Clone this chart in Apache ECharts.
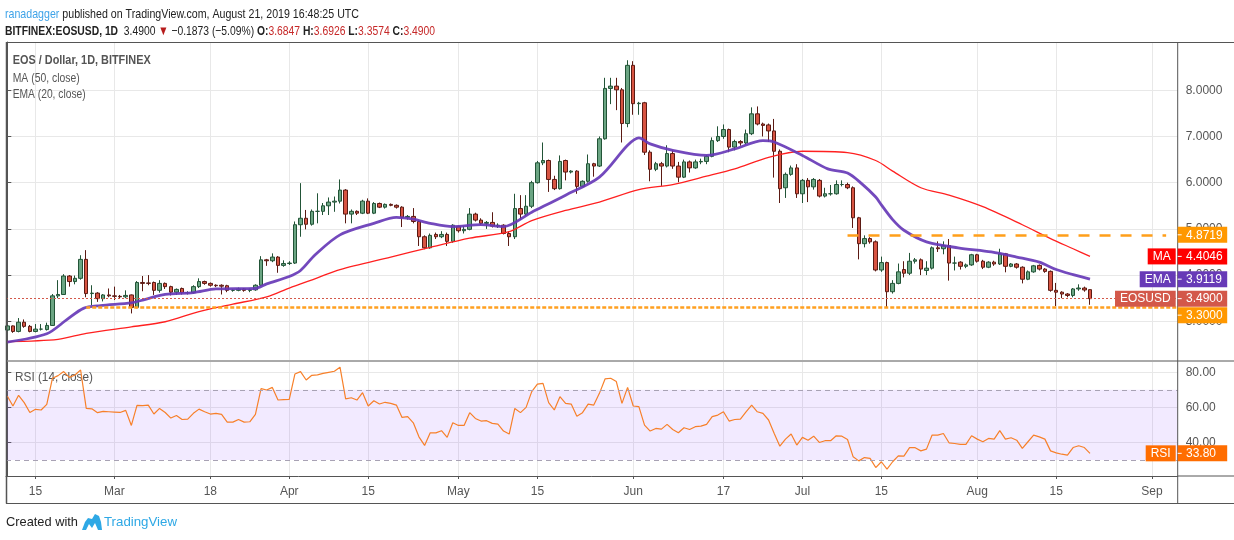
<!DOCTYPE html>
<html><head><meta charset="utf-8">
<script src="https://cdn.jsdelivr.net/npm/echarts@6/dist/echarts.min.js"></script>
<style>html,body{margin:0;padding:0;background:#fff;}#c{width:1234px;height:540px;}</style>
</head><body><div id="c"></div>
<script>
// ---------- DATA ----------
const opens = [
2.81,2.90,2.78,2.98,2.89,2.78,2.83,2.82,2.91,3.55,
3.58,3.98,3.86,3.93,4.34,3.60,3.61,3.49,3.57,3.55,
3.54,3.53,3.57,3.30,3.84,3.83,3.84,3.67,3.82,3.75,
3.63,3.71,3.62,3.62,3.75,3.86,3.82,3.78,3.78,3.77,
3.67,3.67,3.70,3.67,3.68,3.78,4.33,4.31,4.39,4.21,
4.25,4.26,5.09,5.23,5.10,5.38,5.38,5.50,5.58,5.60,
5.84,5.32,5.38,5.34,5.60,5.34,5.55,5.47,5.53,5.51,
5.47,5.25,5.27,5.16,4.83,4.59,4.88,4.83,4.88,4.73,
5.05,4.96,4.99,5.32,5.19,5.12,5.14,5.06,5.08,4.90,
4.83,5.44,5.32,5.49,6.00,6.43,6.48,6.07,5.87,6.48,
6.23,6.25,5.92,6.03,6.41,6.36,6.95,8.04,8.09,8.01,
7.28,8.54,7.71,7.73,6.66,6.29,6.41,6.36,6.63,6.36,
6.12,6.45,6.32,6.45,6.46,6.57,6.91,7.00,7.15,6.77,
6.89,6.86,7.06,7.49,7.27,7.25,7.12,6.68,5.89,6.18,
6.32,5.76,6.05,5.91,6.05,5.71,5.76,5.76,5.96,5.96,
5.89,5.24,4.68,4.79,4.72,4.11,4.27,3.64,3.82,4.12,
4.04,4.30,4.33,4.10,4.15,4.59,4.57,4.64,4.26,4.28,
4.19,4.22,4.44,4.30,4.17,4.28,4.24,4.46,4.19,4.24,
4.17,3.91,4.07,4.21,4.13,4.08,3.67,3.63,3.59,3.56,
3.70,3.72,3.6847];
const closes = [
2.90,2.78,2.98,2.89,2.78,2.83,2.83,2.91,3.55,3.58,
3.98,3.86,3.93,4.34,3.60,3.61,3.49,3.57,3.55,3.54,
3.53,3.56,3.30,3.84,3.82,3.82,3.67,3.82,3.75,3.63,
3.69,3.62,3.62,3.75,3.86,3.82,3.78,3.77,3.76,3.67,
3.67,3.70,3.67,3.68,3.78,4.33,4.31,4.39,4.21,4.25,
4.26,5.09,5.23,5.10,5.38,5.38,5.50,5.58,5.60,5.84,
5.32,5.38,5.34,5.60,5.34,5.55,5.47,5.53,5.51,5.47,
5.25,5.27,5.16,4.83,4.59,4.86,4.83,4.88,4.73,5.08,
4.96,4.99,5.32,5.19,5.12,5.14,5.06,5.08,4.90,4.83,
5.44,5.32,5.49,6.00,6.43,6.48,6.07,5.87,6.46,6.23,
6.25,5.92,6.03,6.41,6.36,6.95,8.04,8.09,8.01,7.28,
8.54,7.71,7.72,6.66,6.29,6.41,6.36,6.63,6.36,6.12,
6.45,6.32,6.45,6.46,6.57,6.91,7.00,7.15,6.77,6.89,
6.86,7.06,7.49,7.27,7.24,7.12,6.68,5.87,6.18,6.32,
5.76,6.05,5.91,6.07,5.71,5.76,5.76,5.96,5.96,5.89,
5.24,4.68,4.79,4.72,4.11,4.27,3.64,3.82,4.07,4.04,
4.30,4.33,4.13,4.15,4.59,4.57,4.64,4.26,4.26,4.19,
4.22,4.44,4.30,4.17,4.28,4.24,4.46,4.19,4.24,4.17,
3.91,4.07,4.20,4.13,4.08,3.67,3.63,3.59,3.56,3.70,
3.72,3.6773,3.49];
const lows = [
2.79,2.75,2.76,2.86,2.76,2.76,2.80,2.80,2.90,3.50,
3.57,3.75,3.80,3.90,3.52,3.35,3.42,3.43,3.52,3.46,
3.50,3.50,3.17,3.28,3.65,3.78,3.57,3.62,3.70,3.56,
3.57,3.58,3.58,3.60,3.72,3.79,3.75,3.74,3.58,3.63,
3.64,3.65,3.64,3.63,3.66,3.76,4.20,4.28,4.05,4.18,
4.22,4.24,4.83,4.99,5.07,5.12,5.30,5.30,5.37,5.55,
5.12,5.12,5.30,5.32,5.32,5.32,5.45,5.44,5.49,5.44,
5.04,5.20,5.12,4.63,4.56,4.57,4.78,4.80,4.63,4.70,
4.92,4.90,4.97,5.16,5.08,5.00,5.03,5.02,4.88,4.63,
4.78,5.20,5.28,5.45,5.98,6.38,5.80,5.84,5.85,6.05,
6.20,5.76,5.90,6.00,6.13,6.34,6.93,7.70,7.57,6.87,
7.20,7.47,7.47,6.60,6.03,6.25,5.93,6.33,6.30,6.01,
6.10,6.22,6.30,6.40,6.40,6.55,6.88,6.95,6.66,6.70,
6.80,6.82,7.03,7.24,7.00,6.88,6.11,5.56,5.67,6.15,
5.67,5.56,5.58,5.85,5.68,5.68,5.72,5.74,5.92,5.86,
5.02,4.34,4.60,4.68,4.08,4.07,3.31,3.60,3.80,3.95,
4.00,4.25,4.00,4.00,4.12,4.50,4.45,3.88,4.10,4.12,
4.15,4.20,4.27,4.13,4.15,4.20,4.22,4.06,4.17,4.14,
3.82,3.89,4.05,4.10,4.05,3.64,3.33,3.50,3.52,3.52,
3.66,3.64,3.3574];
const highs = [
2.92,2.91,3.07,3.04,2.92,2.94,2.94,2.97,3.59,3.89,
4.02,4.00,3.99,4.43,4.54,3.78,3.63,3.59,3.71,3.75,
3.57,3.67,3.58,3.87,3.98,4.00,3.86,3.89,3.84,3.77,
3.71,3.73,3.65,3.78,3.93,3.88,3.84,3.80,3.80,3.79,
3.70,3.73,3.72,3.71,3.80,4.41,4.35,4.47,4.41,4.32,
4.30,5.16,5.99,5.41,5.42,5.77,5.56,5.68,5.70,6.07,
5.86,5.42,5.40,5.63,5.66,5.58,5.57,5.55,5.55,5.53,
5.49,5.30,5.45,5.18,4.86,4.90,4.92,4.95,4.92,5.10,
5.07,5.06,5.45,5.35,5.23,5.17,5.36,5.12,5.10,4.95,
5.76,5.73,5.73,6.04,6.47,6.87,6.50,6.15,6.59,6.50,
6.27,6.27,6.05,6.61,6.43,7.00,8.27,8.27,8.27,8.05,
8.65,8.63,7.75,7.75,6.70,6.45,6.45,6.81,6.70,6.45,
6.50,6.48,6.50,6.52,6.60,6.98,7.22,7.26,7.17,6.93,
6.92,7.15,7.63,7.65,7.30,7.28,7.38,6.72,6.22,6.37,
6.40,6.08,6.10,6.10,6.08,5.89,5.95,6.05,6.05,6.00,
5.92,5.26,4.86,4.82,4.75,4.40,4.29,3.89,4.25,4.30,
4.48,4.37,4.36,4.30,4.62,4.73,4.73,4.78,4.40,4.30,
4.25,4.46,4.46,4.33,4.30,4.31,4.57,4.48,4.26,4.26,
4.19,4.10,4.22,4.23,4.15,4.10,3.83,3.65,3.61,3.72,
3.80,3.75,3.6926];

// MA(50) and EMA(20) read at sample days (day index from first candle)
const maDays   = [0,9,14,22,28,34,40,46,50,55,59,68,75,82,89,93,99,105,112,118,124,129,135,141,149,154,157,162,167,173,180,185,189,192];
const maValues = [2.56,2.61,2.74,2.88,2.99,3.21,3.37,3.53,3.72,3.94,4.12,4.39,4.60,4.80,4.94,5.18,5.40,5.58,5.85,5.96,6.14,6.30,6.55,6.68,6.65,6.48,6.25,5.89,5.73,5.48,5.09,4.79,4.57,4.4046];
const emaDays   = [0,7,10.5,13.5,16.5,22,24,28,33,37,44,46,50,52,54.6,59,65,69,72,75,79,84,88,93,99,105,110,112,114,118,124,129,134,136,141,145.5,149,151.5,154,155,157,159,163,168.6,174.5,179,183,186,189,192];
const emaValues = [2.55,2.73,3.03,3.28,3.34,3.40,3.46,3.58,3.62,3.70,3.71,3.81,3.97,4.10,4.44,4.87,5.12,5.25,5.21,5.12,5.05,5.09,5.05,5.36,5.73,6.12,6.81,6.97,6.84,6.70,6.59,6.73,6.91,6.88,6.59,6.30,6.21,5.98,5.69,5.52,5.20,4.97,4.72,4.59,4.50,4.39,4.28,4.12,4.01,3.9119];

// RSI(14) one value per candle
const rsiValues = [
66.5,60.8,66.9,62.7,57.1,58.9,58.5,61.7,76.6,78.1,
80.4,77.1,78.5,81.3,59.4,59.2,57.0,57.7,57.5,57.3,
57.1,58.3,49.7,61.1,61.0,61.3,56.2,59.4,57.1,53.9,
55.4,53.1,53.3,56.6,59.0,57.5,56.2,56.6,56.0,51.6,
51.6,53.1,51.6,51.8,56.0,70.7,69.9,71.4,64.2,64.4,
64.6,79.0,80.4,75.6,78.3,78.5,79.4,80.0,80.6,82.9,
64.8,65.5,64.2,68.4,60.8,63.8,61.9,62.9,62.3,61.3,
54.3,54.7,51.2,43.2,38.3,45.5,45.5,46.7,42.9,51.2,
49.7,49.7,57.0,53.7,52.2,52.4,50.9,50.5,46.5,44.8,
59.4,57.0,60.0,69.0,73.3,73.7,62.7,58.5,66.1,62.3,
61.9,55.0,57.0,61.9,61.3,68.0,76.2,76.6,74.7,62.3,
71.4,60.8,60.4,49.9,46.5,48.0,47.6,50.3,47.4,45.5,
48.4,47.4,49.0,49.3,50.3,54.7,55.6,57.5,52.2,53.1,
53.3,57.5,61.3,57.5,56.6,52.8,45.1,37.9,41.9,44.8,
38.5,42.9,41.3,43.6,40.0,41.0,41.0,43.8,43.6,41.7,
31.8,29.5,31.4,30.9,25.7,29.0,24.8,29.0,32.4,32.2,
37.1,37.0,35.2,36.2,44.2,44.2,45.1,39.8,39.4,38.9,
38.9,43.8,41.9,40.4,42.3,41.9,46.7,41.9,42.7,41.3,
36.6,40.4,44.2,43.2,41.9,35.2,34.1,33.3,32.8,37.1,
38.1,37.1,33.8];

const priceTicks = [3,4,5,6,7,8];
const rsiTicks = [40,60,80];
const dateTickDays   = [5,19,36,50,64,80,94,111,127,141,155,172,186,203];
const dateTickLabels = ['15','Mar','18','Apr','15','May','15','Jun','17','Jul','15','Aug','15','Sep'];
const levelValues    = [4.8719, 3.30];
const levelStartDays = [149, 14];
const levelEndDays   = [205.5, 207.3];

// ---------- CHART ----------
const FAM = '"Liberation Sans", Arial, sans-serif';
const chart = echarts.init(document.getElementById('c'));
const candleData = opens.map((o,i)=>[i,o,closes[i],lows[i],highs[i]]);
const maData = maDays.map((d,i)=>[d,maValues[i]]);
const emaData = emaDays.map((d,i)=>[d,emaValues[i]]);
const rsiData = rsiValues.map((v,i)=>[i,v]);
const last = closes.length-1;
const XMIN=-0.23, XMAX=207.55;
const gridC = '#e8e8e8', axisC = '#555';

function xAxisCfg(g, showLabels){
  return {type:'value', gridIndex:g, min:XMIN, max:XMAX,
    axisLine:{show:showLabels, lineStyle:{color:axisC}},
    axisTick:{show:showLabels, customValues:dateTickDays, length:3, lineStyle:{color:axisC}},
    axisLabel:{show:showLabels, customValues:dateTickDays, margin:10, color:'#555', fontSize:12, fontFamily:FAM,
      formatter:v=>{const k=dateTickDays.indexOf(v);return k<0?'':dateTickLabels[k];}},
    splitLine:{show:true, lineStyle:{color:gridC, width:1}}};
}
chart.setOption({
  animation:false,
  grid:[{left:6, top:42, width:1171.7, height:318, outerBoundsMode:'none'},
        {left:6, top:362, width:1171.7, height:114, outerBoundsMode:'none'}],
  xAxis:[xAxisCfg(0,false), xAxisCfg(1,true)],
  yAxis:[
    {type:'value', gridIndex:0, position:'right', min:2.162, max:9.045,
     axisLine:{show:true, lineStyle:{color:axisC}},
     axisTick:{show:true, customValues:priceTicks, length:4, lineStyle:{color:axisC}},
     axisLabel:{customValues:priceTicks, formatter:v=>v.toFixed(4), color:'#555', fontSize:12, fontFamily:FAM, margin:8},
     splitLine:{show:true, lineStyle:{color:gridC}}},
    {type:'value', gridIndex:1, position:'right', min:20.88, max:85.87,
     axisLine:{show:true, lineStyle:{color:axisC}},
     axisTick:{show:true, customValues:rsiTicks, length:4, lineStyle:{color:axisC}},
     axisLabel:{customValues:rsiTicks, formatter:v=>v.toFixed(2), color:'#555', fontSize:12, fontFamily:FAM, margin:8},
     splitLine:{show:true, lineStyle:{color:gridC}}}
  ],
  series:[
    {type:'candlestick', xAxisIndex:0, yAxisIndex:0, data:candleData,
     dimensions:['x','open','close','low','high'], encode:{x:0, y:[1,2,3,4]},
     barWidth:4,
     itemStyle:{color:'#6ba583', color0:'#d75442', borderColor:'#225437', borderColor0:'#5b1a13', borderWidth:1},
     markLine:{silent:true, symbol:'none', label:{show:false}, animation:false,
       data:[
         [{coord:[levelStartDays[0],levelValues[0]], lineStyle:{color:'#ff9f1a', width:2.5, type:[11,10]}},{coord:[levelEndDays[0],levelValues[0]]}],
         [{coord:[XMIN,closes[last]], lineStyle:{color:'#d3584a', width:1, type:[2,2]}},{coord:[XMAX,closes[last]]}],
         [{coord:[levelStartDays[1],levelValues[1]], lineStyle:{color:'#ffa020', width:2.6, type:[4,2]}},{coord:[levelEndDays[1],levelValues[1]]}]
       ]}},
    {type:'line', xAxisIndex:0, yAxisIndex:0, data:maData, symbol:'none', smooth:0.3,
     lineStyle:{color:'#ff2020', width:1.3}, z:3},
    {type:'line', xAxisIndex:0, yAxisIndex:0, data:emaData, symbol:'none', smooth:0.3,
     lineStyle:{color:'#673ab7', width:2.8, opacity:0.92}, z:4},
    {type:'line', xAxisIndex:1, yAxisIndex:1, data:rsiData, symbol:'none',
     lineStyle:{color:'#f7802a', width:1.2}, z:4,
     markArea:{silent:true, itemStyle:{color:'rgba(149,80,255,0.12)'}, data:[[{yAxis:30},{yAxis:70}]]},
     markLine:{silent:true, symbol:'none', label:{show:false},
       lineStyle:{color:'#a8a2b4', width:1, type:[5,4]}, data:[{yAxis:70},{yAxis:30}]}}
  ]
});

// ---------- TEXT / DECORATION ----------
const mctx = document.createElement('canvas').getContext('2d');
function tw(t,f){mctx.font=f;return mctx.measureText(t).width;}
function line(segs, x, y, target, size){
  let cx=0; const kids=[];
  segs.forEach(s=>{const f=(s.b?'bold ':'')+size+'px '+FAM; kids.push({type:'text', x:cx, y:0, style:{text:s.t, font:f, fill:s.c||'#222', verticalAlign:'middle'}}); cx+=tw(s.t,f);});
  return {type:'group', x:x, y:y, scaleX:target/cx, z:100, children:kids};
}
const chg = closes[last]-closes[last-1];
const pct = chg/closes[last-1]*100;
const red='#c62828';
const G=[];
G.push(line([{t:'ranadagger',c:'#3ea3e8'},{t:' published on TradingView.com, August 21, 2019 16:48:25 UTC',c:'#222'}],5,14,354,13));
G.push(line([{t:'BITFINEX:EOSUSD, 1D',b:1},{t:'  '+closes[last].toFixed(4)+' '},{t:'\u25BC',c:'#b71c1c'},
  {t:' '+(chg<0?'\u2212':'+')+Math.abs(chg).toFixed(4)+' ('+(chg<0?'\u2212':'+')+Math.abs(pct).toFixed(2)+'%) '},
  {t:'O:',b:1},{t:opens[last].toFixed(4)+' ',c:red},{t:'H:',b:1},{t:highs[last].toFixed(4)+' ',c:red},
  {t:'L:',b:1},{t:lows[last].toFixed(4)+' ',c:red},{t:'C:',b:1},{t:closes[last].toFixed(4),c:red}],5,31,430,13));
G.push(line([{t:'EOS / Dollar, 1D, BITFINEX',b:1,c:'#555'}],12.7,61,138,12.5));
G.push(line([{t:'MA (50, close)',c:'#555'}],12.7,78.5,67,12.5));
G.push(line([{t:'EMA (20, close)',c:'#555'}],12.7,95,73,12.5));
G.push(line([{t:'RSI (14, close)',c:'#555'}],15,377.5,78,12.5));
// frame
const fl=(x1,y1,x2,y2,w)=>({type:'line', z:90, shape:{x1,y1,x2,y2}, style:{stroke:axisC, lineWidth:w||1}});
G.push(fl(6,42.5,1234,42.5), fl(6.5,42,6.5,503.5,1.5), fl(6,361,1234,361), fl(1177.7,476,1234,476), fl(6,503.5,1234,503.5), fl(1177.7,42,1177.7,503.5));
// footer
G.push(line([{t:'Created with',c:'#222'}],6,522,72,13));
G.push({type:'polygon', z:100, shape:{points:[[82,530],[85,522],[88,518],[92,519],[95,514],[99,516],[101,522],[102,530],[98,530],[95,523],[92,528],[89,524],[86,530]]}, style:{fill:'#2ea8e5'}});
G.push(line([{t:'TradingView',c:'#2ea8e5'}],104,522,73,13));

// right-hand value boxes (placed from values through the axes)
function addBoxes(items, yIdx){
  items.forEach(it=>{it.y=chart.convertToPixel({yAxisIndex:yIdx}, it.v);});
  items.sort((a,b)=>a.y-b.y);
  let prev=-1e9;
  items.forEach(it=>{
    let top=it.y-8; if(top<prev+0.5) top=prev+0.5; prev=top+16;
    G.push({type:'rect', z:110, shape:{x:1177.7, y:top, width:49.5, height:16}, style:{fill:it.color}});
    G.push({type:'line', z:111, shape:{x1:1177.7,y1:top+8,x2:1181.7,y2:top+8}, style:{stroke:'#fff', lineWidth:1}});
    G.push({type:'text', z:111, x:1186, y:top+8.5, style:{text:it.v.toFixed(it.dec), font:'12px '+FAM, fill:'#fff', verticalAlign:'middle'}});
    if(it.label){
      const w = tw(it.label,'12px '+FAM)+10;
      G.push({type:'rect', z:110, shape:{x:1175.7-w, y:top, width:w, height:16}, style:{fill:it.color}});
      G.push({type:'text', z:111, x:1175.7-w/2, y:top+8.5, style:{text:it.label, font:'12px '+FAM, fill:'#fff', align:'center', verticalAlign:'middle'}});
    }
  });
}
addBoxes([
  {v:levelValues[0], color:'#ff9800', dec:4},
  {v:maValues[maValues.length-1], color:'#ff0000', label:'MA', dec:4},
  {v:emaValues[emaValues.length-1], color:'#673ab7', label:'EMA', dec:4},
  {v:closes[last], color:'#d3584a', label:'EOSUSD', dec:4},
  {v:levelValues[1], color:'#ff9800', dec:4}
],0);
addBoxes([{v:rsiValues[rsiValues.length-1], color:'#ff6d00', label:'RSI', dec:2}],1);
chart.setOption({graphic:G});
</script></body></html>
